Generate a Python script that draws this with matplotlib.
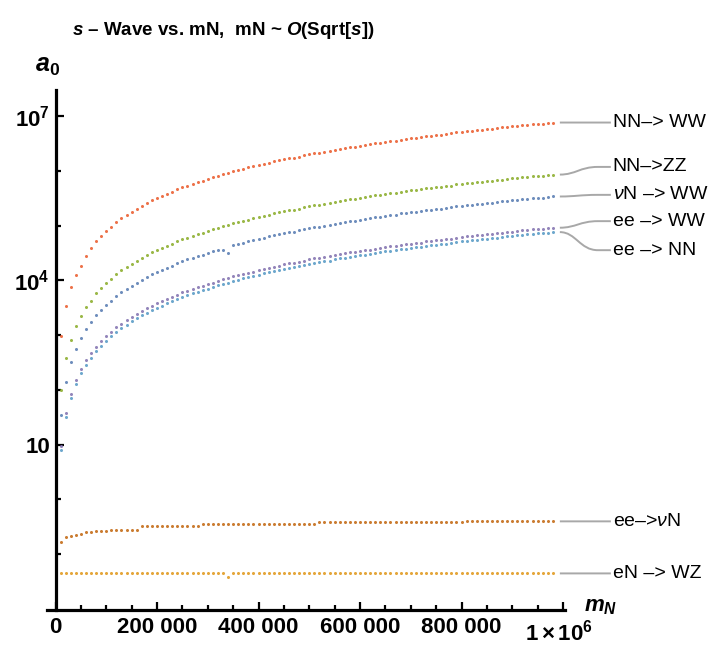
# s-wave amplitude a0 vs heavy neutrino mass mN (log scale), Mathematica-style
import numpy as np
import matplotlib
matplotlib.use('Agg')
import matplotlib.pyplot as plt
import matplotlib.transforms as mtransforms
from matplotlib.path import Path
from matplotlib.patches import PathPatch
from matplotlib.ticker import FixedLocator, FixedFormatter

plt.rcParams['font.family'] = ['Liberation Sans', 'DejaVu Sans']
plt.rcParams['mathtext.fontset'] = 'custom'
plt.rcParams['mathtext.rm'] = 'Liberation Sans'
plt.rcParams['mathtext.it'] = 'Liberation Sans:italic'
plt.rcParams['mathtext.bf'] = 'Liberation Sans:bold'
plt.rcParams['mathtext.bfit'] = 'Liberation Sans:bold:italic'
plt.rcParams['mathtext.sf'] = 'Liberation Sans'

#-------------------------------------------------------------------------------
# data: mN samples and log10(a0)
mN = np.arange(1, 99) * 10000

log_nu_N_WW = [1.55, 2.15, 2.50, 2.75, 2.95, 3.11, 3.24, 3.36, 3.46, 3.55,
               3.63, 3.71, 3.78, 3.84, 3.90, 3.96, 4.01, 4.06, 4.11, 4.15,
               4.19, 4.23, 4.27, 4.31, 4.35, 4.38, 4.41, 4.44, 4.47, 4.50,
               4.53, 4.56, 4.56, 4.50, 4.64, 4.66, 4.69, 4.71, 4.73, 4.75,
               4.78, 4.80, 4.82, 4.84, 4.86, 4.88, 4.89, 4.91, 4.93, 4.95,
               4.97, 4.98, 5.00, 5.01, 5.03, 5.05, 5.06, 5.08, 5.09, 5.11,
               5.12, 5.13, 5.15, 5.16, 5.18, 5.19, 5.20, 5.22, 5.23, 5.24,
               5.25, 5.26, 5.28, 5.29, 5.30, 5.31, 5.32, 5.33, 5.35, 5.36,
               5.37, 5.38, 5.39, 5.40, 5.41, 5.42, 5.43, 5.44, 5.45, 5.46,
               5.47, 5.48, 5.49, 5.50, 5.51, 5.51, 5.52, 5.53]

log_eN_WZ = [-1.35] * 33 + [-1.42] + [-1.35] * 64

log_NN_ZZ = [2.00, 2.58, 2.91, 3.16, 3.35, 3.51, 3.63, 3.76, 3.86, 3.95,
             4.03, 4.11, 4.18, 4.24, 4.30, 4.36, 4.41, 4.46, 4.51, 4.55,
             4.59, 4.63, 4.67, 4.71, 4.75, 4.78, 4.81, 4.84, 4.87, 4.90,
             4.93, 4.96, 4.99, 5.01, 5.04, 5.06, 5.09, 5.11, 5.13, 5.15,
             5.18, 5.20, 5.22, 5.24, 5.26, 5.28, 5.29, 5.31, 5.33, 5.35,
             5.37, 5.38, 5.40, 5.41, 5.43, 5.45, 5.46, 5.48, 5.49, 5.51,
             5.52, 5.53, 5.55, 5.56, 5.58, 5.59, 5.60, 5.62, 5.63, 5.64,
             5.65, 5.66, 5.68, 5.69, 5.70, 5.71, 5.72, 5.73, 5.75, 5.76,
             5.77, 5.78, 5.79, 5.80, 5.81, 5.82, 5.83, 5.84, 5.85, 5.86,
             5.87, 5.88, 5.89, 5.90, 5.91, 5.91, 5.92, 5.93]

log_NN_WW = [2.98, 3.53, 3.87, 4.09, 4.27, 4.45, 4.59, 4.71, 4.81, 4.90,
             4.98, 5.06, 5.13, 5.19, 5.25, 5.31, 5.36, 5.41, 5.46, 5.50,
             5.54, 5.58, 5.62, 5.66, 5.70, 5.73, 5.76, 5.79, 5.82, 5.85,
             5.88, 5.91, 5.94, 5.96, 5.99, 6.01, 6.04, 6.06, 6.08, 6.10,
             6.13, 6.15, 6.17, 6.19, 6.21, 6.23, 6.24, 6.26, 6.28, 6.30,
             6.32, 6.33, 6.35, 6.36, 6.38, 6.40, 6.41, 6.43, 6.44, 6.46,
             6.47, 6.48, 6.50, 6.51, 6.53, 6.54, 6.55, 6.57, 6.58, 6.59,
             6.60, 6.61, 6.63, 6.64, 6.65, 6.66, 6.67, 6.68, 6.70, 6.71,
             6.72, 6.73, 6.74, 6.75, 6.76, 6.77, 6.78, 6.79, 6.80, 6.81,
             6.82, 6.83, 6.84, 6.85, 6.86, 6.86, 6.87, 6.88]

log_ee_WW = [0.98, 1.58, 1.93, 2.18, 2.38, 2.54, 2.67, 2.79, 2.89, 2.98,
             3.06, 3.14, 3.21, 3.27, 3.33, 3.39, 3.44, 3.49, 3.54, 3.58,
             3.62, 3.66, 3.70, 3.74, 3.78, 3.81, 3.84, 3.87, 3.90, 3.93,
             3.96, 3.99, 4.02, 4.04, 4.07, 4.09, 4.12, 4.14, 4.16, 4.18,
             4.21, 4.23, 4.25, 4.27, 4.29, 4.31, 4.32, 4.34, 4.36, 4.38,
             4.40, 4.41, 4.43, 4.44, 4.46, 4.48, 4.49, 4.51, 4.52, 4.54,
             4.55, 4.56, 4.58, 4.59, 4.61, 4.62, 4.63, 4.65, 4.66, 4.67,
             4.68, 4.69, 4.71, 4.72, 4.73, 4.74, 4.75, 4.76, 4.78, 4.79,
             4.80, 4.81, 4.82, 4.83, 4.84, 4.85, 4.86, 4.87, 4.88, 4.89,
             4.90, 4.91, 4.92, 4.93, 4.94, 4.94, 4.95, 4.96]

log_ee_nuN = ([-0.78, -0.68, -0.66, -0.64, -0.63, -0.60, -0.60, -0.58, -0.58, -0.57]
              + [-0.55] * 6 + [-0.49] * 12 + [-0.45] * 23 + [-0.41] * 29 + [-0.40] * 18)

log_ee_NN = [0.90, 1.50, 1.85, 2.10, 2.30, 2.46, 2.59, 2.71, 2.81, 2.90,
             2.98, 3.06, 3.13, 3.19, 3.25, 3.31, 3.36, 3.41, 3.46, 3.50,
             3.54, 3.58, 3.62, 3.66, 3.70, 3.73, 3.76, 3.79, 3.82, 3.85,
             3.88, 3.91, 3.94, 3.96, 3.99, 4.01, 4.04, 4.06, 4.08, 4.10,
             4.13, 4.15, 4.17, 4.19, 4.21, 4.23, 4.24, 4.26, 4.28, 4.30,
             4.32, 4.33, 4.35, 4.36, 4.38, 4.40, 4.41, 4.43, 4.44, 4.46,
             4.47, 4.48, 4.50, 4.51, 4.53, 4.54, 4.55, 4.57, 4.58, 4.59,
             4.60, 4.61, 4.63, 4.64, 4.65, 4.66, 4.67, 4.68, 4.70, 4.71,
             4.72, 4.73, 4.74, 4.75, 4.76, 4.77, 4.78, 4.79, 4.80, 4.81,
             4.82, 4.83, 4.84, 4.85, 4.86, 4.86, 4.87, 4.88]

series = [log_nu_N_WW, log_eN_WZ, log_NN_ZZ, log_NN_WW, log_ee_WW, log_ee_nuN, log_ee_NN]
labels = ['$\\nu$N \u2013> WW', 'eN \u2013> WZ', 'NN\u2013>ZZ', 'NN\u2013> WW',
          'ee \u2013> WW', 'ee\u2013>$\\nu$N', 'ee \u2013> NN']

#-------------------------------------------------------------------------------
# style / layout
colors = ['#5E81B5', '#E19C24', '#8FB032', '#EB6235', '#8778B3', '#C56E1A', '#5D9EC7']
label_log_y = [5.56, -1.35, 6.07, 6.88, 5.08, -0.40, 4.55]   # where each callout text sits

W, H = 718, 645
fig = plt.figure(figsize=(W / 100, H / 100), dpi=100)
ax = fig.add_axes([47 / W, 1 - 610 / H, (565 - 47) / W, (610 - 90) / H])

for vals, c in zip(series, colors):
    ax.plot(mN, 10.0 ** np.array(vals), ls='none', marker='o', ms=2.2,
            mew=0, color=c, alpha=0.9)

ax.set_yscale('log')
ax.set_xlim(-16750, 1.0039e6)
ax.set_ylim(10 ** -2.018, 10 ** 7.474)

for s in ['top', 'right']:
    ax.spines[s].set_visible(False)
ax.spines['left'].set_position(('data', 0))
for s in ['left', 'bottom']:
    ax.spines[s].set_linewidth(2.3)
    ax.spines[s].set_color('black')

ax.xaxis.set_major_locator(FixedLocator([0, 200000, 400000, 600000, 800000, 1000000]))
ax.xaxis.set_major_formatter(FixedFormatter(['0', '200 000', '400 000', '600 000', '800 000',
                                             '$\\mathbf{1\\times10^{6}}$']))
ax.xaxis.set_minor_locator(FixedLocator(np.arange(50000, 1000000, 50000)))
ax.yaxis.set_major_locator(FixedLocator([10, 1e4, 1e7]))
ax.yaxis.set_major_formatter(FixedFormatter(['10', '$\\mathbf{10^{4}}$', '$\\mathbf{10^{7}}$']))
ax.yaxis.set_minor_locator(FixedLocator([1e-1, 1, 1e2, 1e3, 1e5, 1e6]))
ax.yaxis.set_minor_formatter(FixedFormatter([]))

ax.tick_params(which='both', direction='in', color='black', width=1.6)
ax.tick_params(which='major', length=6)
ax.tick_params(which='minor', length=3.5)
ax.tick_params(axis='x', which='major', pad=5, labelsize=16)
ax.tick_params(axis='y', which='major', pad=4, labelsize=16)
for t in ax.get_xticklabels() + ax.get_yticklabels():
    t.set_fontweight('bold')

# nudge the last x label a bit left and down, as in the original
shift = mtransforms.ScaledTranslation(-4 / 100, -3 / 100, fig.dpi_scale_trans)
for tick in ax.xaxis.get_major_ticks()[-1:]:
    tick.label1.set_transform(tick.label1.get_transform() + shift)

# axis labels and title
fig.text(35 / W, 1 - 72 / H, '$\\mathbfit{a}_{\\mathbf{0}}$', fontsize=18, va='baseline')
fig.text(584 / W, 1 - 611 / H, '$\\mathbfit{m}_{\\mathbfit{N}}$', fontsize=16, va='baseline')
fig.text(72 / W, 1 - 35 / H,
         '$\\mathbfit{s}$ \u2013 Wave vs. mN,  mN ~ $\\mathbfit{O}$(Sqrt[$\\mathbfit{s}$])',
         fontsize=13.5, fontweight='bold', va='baseline')

#-------------------------------------------------------------------------------
# callout lines to the labels at the right
def callout(y_end, y_lab, text):
    x0, y0 = ax.transData.transform((mN[-1], y_end))
    _, y1 = ax.transData.transform((mN[-1], y_lab))
    x0 += 7
    verts = [(x0, y0), (x0 + 16, y0), (x0 + 20, y1), (x0 + 38, y1), (x0 + 51, y1)]
    verts = [(vx / W, vy / H) for vx, vy in verts]
    codes = [Path.MOVETO, Path.CURVE4, Path.CURVE4, Path.CURVE4, Path.LINETO]
    fig.add_artist(PathPatch(Path(verts, codes), transform=fig.transFigure,
                             fill=False, edgecolor='#A8A8A8', lw=1.4))
    fig.text((x0 + 53) / W, y1 / H, text, fontsize=14, va='center', ha='left')

for vals, ly, lab in zip(series, label_log_y, labels):
    callout(10.0 ** vals[-1], 10.0 ** ly, lab)

fig.savefig('out.png', dpi=100)
